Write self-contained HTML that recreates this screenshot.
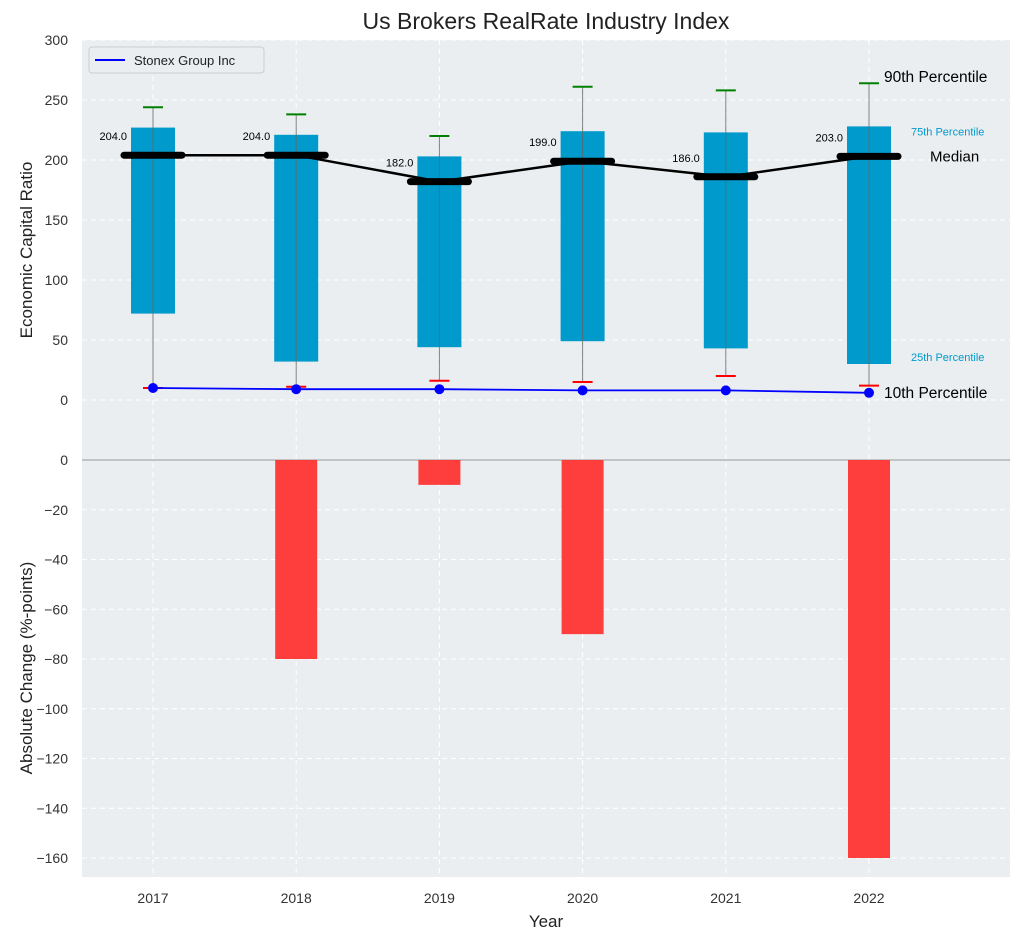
<!DOCTYPE html>
<html><head><meta charset="utf-8"><style>
body{margin:0;background:#fff;}
svg text{font-family:"Liberation Sans",sans-serif;}
</style></head><body>
<svg id="c" width="1021" height="940" xmlns="http://www.w3.org/2000/svg"></svg>
<script>
const years=[2017,2018,2019,2020,2021,2022];
const p25=[72,32,44,49,43,30];
const p75=[227,221,203,224,223,228];
const p90=[244,238,220,261,258,264];
const p10=[10,11,16,15,20,12];
const median=[204,204,182,199,186,203];
const stonex=[10,9,9,8,8,6];
const change=[0,-80,-10,-70,0,-160];
const topTicks=[0,50,100,150,200,250,300];
const botTicks=[0,-20,-40,-60,-80,-100,-120,-140,-160];
const NS="http://www.w3.org/2000/svg";
const svg=document.getElementById('c');
function el(t,a,p){const e=document.createElementNS(NS,t);for(const k in a)e.setAttribute(k,a[k]);(p||svg).appendChild(e);return e;}
const X=y=>153+(y-2017)*143.2;
const YT=v=>400-1.2*v;
const YB=v=>460-2.4875*v;
let r=el('rect',{x:82,y:40,width:928,height:420,fill:'#eaeef0'});

r=el('rect',{x:82,y:460,width:928,height:417,fill:'#eaeef0'});

topTicks.forEach(v=>{el('line',{x1:82,x2:1010,y1:YT(v),y2:YT(v),stroke:'#fff','stroke-dasharray':'5,4'});
 const t=el('text',{x:68,y:YT(v)+5,'text-anchor':'end','font-size':14,fill:'#333'});t.textContent=v;
 });
botTicks.forEach(v=>{el('line',{x1:82,x2:1010,y1:YB(v),y2:YB(v),stroke:'#fff','stroke-dasharray':'5,4'});
 const t=el('text',{x:68,y:YB(v)+5,'text-anchor':'end','font-size':14,fill:'#333'});t.textContent=v===0?'0':'\u2212'+(-v);
 });
years.forEach(y=>{el('line',{x1:X(y),x2:X(y),y1:40,y2:877,stroke:'#fff','stroke-dasharray':'5,4'});
 const t=el('text',{x:X(y),y:903,'text-anchor':'middle','font-size':14,fill:'#333'});t.textContent=y;
 });
el('line',{x1:82,x2:1010,y1:460,y2:460,stroke:'#aaa','stroke-width':1.2});
years.forEach((y,i)=>{
 const b=el('rect',{x:X(y)-22,y:YT(p75[i]),width:44,height:YT(p25[i])-YT(p75[i]),fill:'#009bcc'});
 
 el('line',{x1:X(y),x2:X(y),y1:YT(p90[i]),y2:YT(p10[i]),stroke:'#666','stroke-width':1,opacity:0.8});
 const g=el('line',{x1:X(y)-10,x2:X(y)+10,y1:YT(p90[i]),y2:YT(p90[i]),stroke:'green','stroke-width':2});
 
 const rr=el('line',{x1:X(y)-10,x2:X(y)+10,y1:YT(p10[i]),y2:YT(p10[i]),stroke:'red','stroke-width':2});
 
 const m=el('line',{x1:X(y)-29,x2:X(y)+29,y1:YT(median[i]),y2:YT(median[i]),stroke:'#000','stroke-width':7,'stroke-linecap':'round'});
 
 const t=el('text',{x:X(y)-26,y:YT(median[i])-15,'text-anchor':'end','font-size':11,fill:'#000'});t.textContent=median[i].toFixed(1);
 
 if(change[i]!==0){const c=el('rect',{x:X(y)-21,y:YB(0),width:42,height:YB(change[i])-YB(0),fill:'#ff3333',opacity:0.95});
 }
});
let ml=el('polyline',{points:years.map((y,i)=>X(y)+','+YT(median[i])).join(' '),fill:'none',stroke:'#000','stroke-width':2.5});

let sl=el('polyline',{points:years.map((y,i)=>X(y)+','+YT(stonex[i])).join(' '),fill:'none',stroke:'#0000ff','stroke-width':1.8});

years.forEach((y,i)=>{const d=el('circle',{cx:X(y),cy:YT(stonex[i]),r:5,fill:'#0000ff'});
 });
const last=years.length-1;
function lab(txt,x,y,size,col,name){const t=el('text',{x:x,y:y,'font-size':size,fill:col});t.textContent=txt;}
lab('90th Percentile',884,YT(p90[last])-1,15.5,'#000','p90-label');
lab('75th Percentile',911,YT(p75[last])+9,11,'#009bcc','p75-label');
lab('Median',930,YT(median[last])+5,15,'#000','median-text-label');
lab('25th Percentile',911,YT(p25[last])-3,11,'#009bcc','p25-label');
lab('10th Percentile',884,YT(stonex[last])+5,15.5,'#000','p10-label');
const lg=el('g',{});
el('rect',{x:89,y:47,width:175,height:26,fill:'#eaeef0',stroke:'#ccc',rx:3},lg);
el('line',{x1:95,x2:125,y1:60,y2:60,stroke:'#0000ff','stroke-width':2},lg);
const lt=el('text',{x:134,y:65,'font-size':13,fill:'#222'},lg);lt.textContent='Stonex Group Inc';
lab('Us Brokers RealRate Industry Index',546,29,23,'#222','chart-title');
svg.lastChild.setAttribute('text-anchor','middle');
lab('Year',546,927,17,'#222','x-axis-title');svg.lastChild.setAttribute('text-anchor','middle');
let t=el('text',{transform:'translate(32,250) rotate(-90)','text-anchor':'middle','font-size':17,fill:'#222'});t.textContent='Economic Capital Ratio';

t=el('text',{transform:'translate(32,668) rotate(-90)','text-anchor':'middle','font-size':17,fill:'#222'});t.textContent='Absolute Change (%-points)';

</script>
</body></html>
